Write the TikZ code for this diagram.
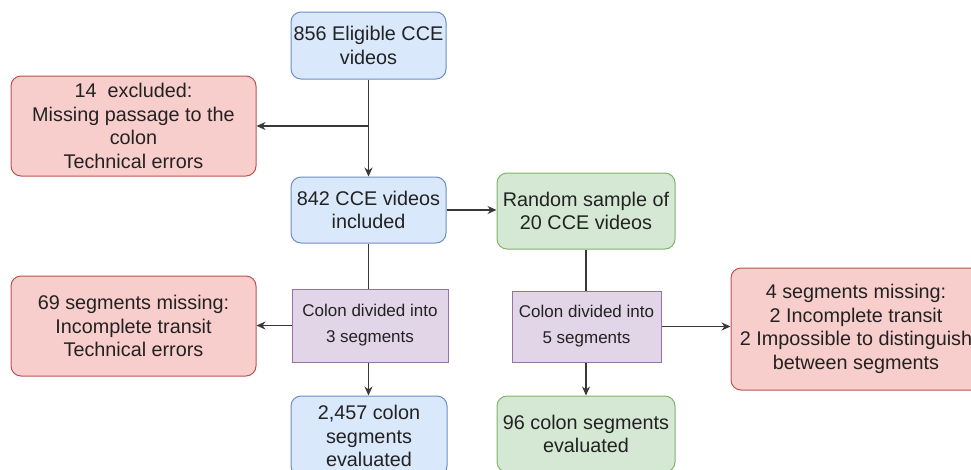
\documentclass[tikz,border=0pt]{standalone}
\usepackage{fontspec}
\setmainfont{Liberation Sans}
\usetikzlibrary{arrows.meta}
\definecolor{bluefill}{HTML}{DAE8FC}
\definecolor{blueline}{HTML}{6C8EBF}
\definecolor{redfill}{HTML}{F8CECC}
\definecolor{redline}{HTML}{B85450}
\definecolor{greenfill}{HTML}{D5E8D4}
\definecolor{greenline}{HTML}{82B366}
\definecolor{purplefill}{HTML}{E1D5E7}
\definecolor{purpleline}{HTML}{9673A6}
\definecolor{ink}{HTML}{222222}
\begin{document}
\begin{tikzpicture}[x=1pt,y=-1pt,
  box/.style={draw, rounded corners=10pt, line width=1pt, align=center,
    inner sep=0pt, text=ink, font=\fontsize{19.8}{23.5}\selectfont},
  bluebox/.style={box, fill=bluefill, draw=blueline},
  redbox/.style={box, fill=redfill, draw=redline},
  greenbox/.style={box, fill=greenfill, draw=greenline},
  stepbox/.style={draw=purpleline, fill=purplefill, line width=1pt, align=center,
    inner sep=0pt, text=ink, font=\fontsize{17}{26}\selectfont},
  link/.style={draw=ink!90, line width=1.3pt},
  arrow/.style={link, -{Stealth[length=9pt,width=8pt]}}]
\useasboundingbox (0,0) rectangle (971,469);
\clip (0,0) rectangle (971,469);

% left branch
\node[bluebox, minimum width=155pt, minimum height=67pt] (eligible) at (368.5,45.5)
  {856 Eligible CCE\\videos};
\node[redbox, minimum width=245pt, minimum height=100pt] (excluded) at (133.5,126)
  {14~ excluded:\\Missing passage to the\\colon\\Technical errors};
\node[bluebox, minimum width=155pt, minimum height=66pt] (included) at (368.5,210)
  {842 CCE videos\\included};
\node[stepbox, minimum width=156pt, minimum height=73pt] (three) at (370,325.5)
  {Colon divided into\\3 segments};
\node[redbox, minimum width=245pt, minimum height=100pt] (missleft) at (133.5,326)
  {69 segments missing:\\Incomplete transit\\Technical errors};
\node[bluebox, minimum width=156pt, minimum height=80pt] (evalleft) at (369,436)
  {2,457 colon\\segments\\evaluated};

% right branch
\node[greenbox, minimum width=178pt, minimum height=76pt] (sample) at (586,211)
  {Random sample of\\20 CCE videos};
\node[stepbox, minimum width=149pt, minimum height=71pt] (five) at (586.5,326.5)
  {Colon divided into\\5 segments};
\node[redbox, minimum width=250pt, minimum height=122pt] (missright) at (856,329)
  {4 segments missing:\\2 Incomplete transit\\2 Impossible to distinguish\\between segments};
\node[greenbox, minimum width=178pt, minimum height=76pt] (evalright) at (586,434)
  {96 colon segments\\evaluated};

% connectors
\coordinate (split) at (eligible.south |- excluded.east);
\draw[arrow] (eligible.south) -- (included.north);
\draw[arrow] (split) -- (excluded.east);
\draw[arrow] (included.east) -- (sample.west |- included.east);
\draw[link] (included.south) -- (included.south |- three.north);
\draw[arrow] (three.west) -- (missleft.east |- three.west);
\draw[arrow] (three.south -| included.south) -- (evalleft.north -| included.south);
\draw[link] (sample.south) -- (sample.south |- five.north);
\draw[arrow] (five.east) -- (missright.west |- five.east);
\draw[arrow] (five.south -| sample.south) -- (evalright.north -| sample.south);
\end{tikzpicture}
\end{document}
